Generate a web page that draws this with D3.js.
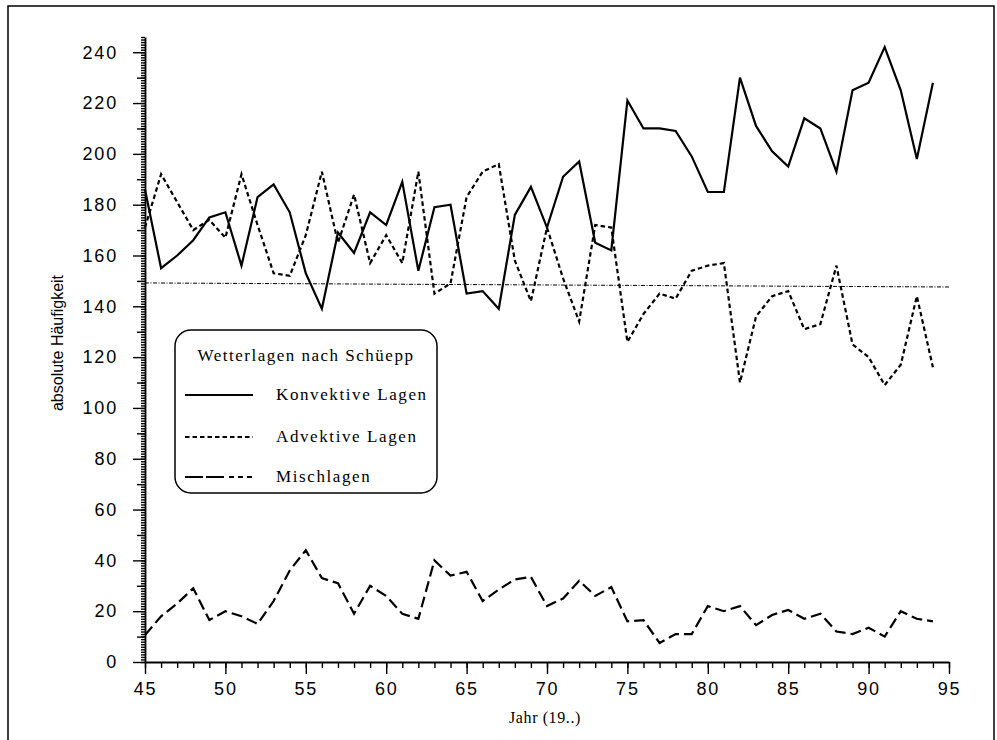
<!DOCTYPE html>
<html>
<head>
<meta charset="utf-8">
<script src="https://cdn.jsdelivr.net/npm/d3@7"></script>
<style>
  body { margin: 0; background: #fff; }
  svg { display: block; }
</style>
</head>
<body>
<div id="chart"></div>
<script>
// Jahre 1945 - 1994
var years = d3.range(45, 95);

var konvektiv = [186, 155, 160, 166, 175, 177, 156, 183, 188, 177,
                 153, 139, 169, 161, 177, 172, 189, 154, 179, 180,
                 145, 146, 139, 176, 187, 171, 191, 197, 165, 162,
                 221, 210, 210, 209, 199, 185, 185, 230, 211, 201,
                 195, 214, 210, 193, 225, 228, 242, 225, 198, 228];

var advektiv = [171, 192, 181, 170, 174, 167, 192, 172, 153, 152,
                168, 193, 165, 184, 157, 168, 157, 193, 145, 149,
                183, 193, 196, 158, 142, 171, 151, 134, 172, 171,
                126, 137, 145, 143, 154, 156, 157, 110, 136, 144,
                146, 131, 133, 156, 125, 120, 109, 117, 144, 116];

var misch = [10.6, 18, 23, 29, 16.5, 20, 18, 15, 24, 36,
             44, 33, 31, 19, 30, 26, 19, 17, 40, 34,
             35.5, 24, 28.5, 32.5, 33.5, 22, 25, 32, 26, 29.5,
             16, 16.5, 7.5, 11, 11, 22, 20, 22, 14.5, 18.5,
             20.5, 17, 19, 12, 11, 13.5, 10, 20, 17, 16];

// duenne Bezugslinie
var refYears = [45, 95];
var refValues = [149.2, 147.6];

var yTicks = d3.range(0, 241, 20);
var xTicks = d3.range(45, 96, 5);

var legendLabels = ["Konvektive Lagen", "Advektive Lagen", "Mischlagen"];
var legendTitle = "Wetterlagen nach Schüepp";

var width = 997, height = 740;

var svg = d3.select("#chart").append("svg")
    .attr("width", width)
    .attr("height", height);

// Rahmen
svg.append("path")
    .attr("d", "M8,740 V6 H994 V740")
    .attr("fill", "none")
    .attr("stroke", "#000")
    .attr("stroke-width", 1.5);

var x = d3.scaleLinear().domain([45, 95]).range([145, 949]);
var y = d3.scaleLinear().domain([0, 246]).range([662, 37]);

var sans = "'Liberation Sans', Arial, sans-serif";
var serif = "'Liberation Serif', 'Times New Roman', serif";

/*------------- y axis -------------*/
var yMinor = svg.append("g")
    .attr("transform", "translate(145,0)")
    .call(d3.axisLeft(y).tickValues(d3.range(0, 247)).tickSize(4).tickSizeOuter(0).tickFormat(""));
var yMid = svg.append("g")
    .attr("transform", "translate(145,0)")
    .call(d3.axisLeft(y).tickValues(d3.range(10, 247, 20)).tickSize(8).tickSizeOuter(0).tickFormat(""));
var yMajor = svg.append("g")
    .attr("transform", "translate(145,0)")
    .call(d3.axisLeft(y).tickValues(yTicks).tickSize(12).tickSizeOuter(0).tickPadding(15));

yMid.select(".domain").remove();
yMajor.select(".domain").remove();
yMinor.select(".domain").attr("stroke-width", 1.8);
svg.selectAll(".tick line").attr("stroke-width", 1.2);

yMajor.selectAll("text")
    .style("font-family", sans)
    .style("font-size", "18px")
    .style("letter-spacing", "1.8px");

/*------------- x axis -------------*/
var xMinor = svg.append("g")
    .attr("transform", "translate(0,662)")
    .call(d3.axisBottom(x).tickValues(d3.range(45, 96)).tickSize(6).tickSizeOuter(0).tickFormat(""));
var xMajor = svg.append("g")
    .attr("transform", "translate(0,662)")
    .call(d3.axisBottom(x).tickValues(xTicks).tickSize(12).tickSizeOuter(0).tickPadding(8));

xMajor.select(".domain").remove();
xMinor.select(".domain").attr("stroke-width", 1.8);
svg.selectAll(".tick line").attr("stroke-width", 1.4);

xMajor.selectAll("text")
    .style("font-family", sans)
    .style("font-size", "18px")
    .style("letter-spacing", "1.8px");

// Achsentitel
svg.append("text")
    .attr("transform", "translate(63,343) rotate(-90)")
    .attr("text-anchor", "middle")
    .style("font-family", "'Liberation Sans Narrow', 'Liberation Sans', sans-serif")
    .style("font-stretch", "condensed")
    .style("font-size", "16px")
    .text("absolute Häufigkeit");

svg.append("text")
    .attr("x", 545)
    .attr("y", 723)
    .attr("text-anchor", "middle")
    .style("font-family", serif)
    .style("font-size", "16px")
    .style("letter-spacing", "0.6px")
    .text("Jahr (19..)");

/*------------- lines -------------*/
function lineOf(values) {
    return d3.line()
        .x(function(d, i) { return x(years[i]); })
        .y(function(d) { return y(d); })(values);
}

svg.append("path")
    .attr("d", d3.line()
        .x(function(d, i) { return x(refYears[i]); })
        .y(function(d) { return y(d); })(refValues))
    .attr("fill", "none")
    .attr("stroke", "#000")
    .attr("stroke-width", 1)
    .attr("stroke-dasharray", "4,1.5,1,1.5");

var series = [
    { values: konvektiv, dash: null },
    { values: advektiv, dash: "4.5,3" },
    { values: misch, dash: "11,5" }
];

series.forEach(function(s) {
    svg.append("path")
        .attr("d", lineOf(s.values))
        .attr("fill", "none")
        .attr("stroke", "#000")
        .attr("stroke-width", 2.2)
        .attr("stroke-linejoin", "miter")
        .attr("stroke-dasharray", s.dash);
});

/*------------- legend -------------*/
var legend = svg.append("g");

legend.append("rect")
    .attr("x", 175)
    .attr("y", 330)
    .attr("width", 262)
    .attr("height", 163)
    .attr("rx", 16)
    .attr("fill", "#fff")
    .attr("stroke", "#000")
    .attr("stroke-width", 1.5);

legend.append("text")
    .attr("x", 306)
    .attr("y", 361)
    .attr("text-anchor", "middle")
    .style("font-family", serif)
    .style("font-size", "17px")
    .style("letter-spacing", "1.5px")
    .text(legendTitle);

var legendDash = [null, "4.5,3", "18,3,18,5,5,4,5,4,5"];
var legendY = [395, 437, 477];

legendLabels.forEach(function(label, i) {
    legend.append("line")
        .attr("x1", 185)
        .attr("x2", 253)
        .attr("y1", legendY[i])
        .attr("y2", legendY[i])
        .attr("stroke", "#000")
        .attr("stroke-width", 2.2)
        .attr("stroke-dasharray", legendDash[i]);

    legend.append("text")
        .attr("x", 276)
        .attr("y", legendY[i] + 5)
        .style("font-family", serif)
        .style("font-size", "17px")
        .style("letter-spacing", "1.6px")
        .text(label);
});
</script>
</body>
</html>
